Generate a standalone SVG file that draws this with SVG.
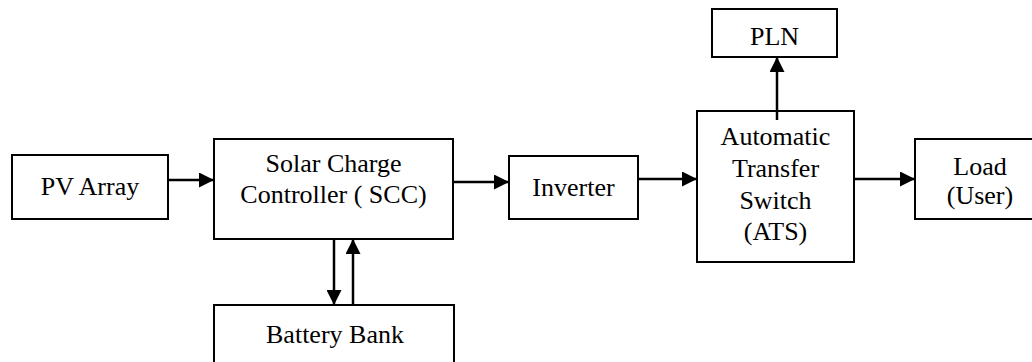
<svg xmlns="http://www.w3.org/2000/svg" width="1032" height="362" viewBox="0 0 1032 362">
<defs>
<style>
.box{fill:#fff;stroke:#000;stroke-width:2}
.lbl{font-family:'Liberation Serif','Times New Roman',Tinos,'Noto Serif','DejaVu Serif',FreeSerif,Times,serif;font-size:26px;fill:#000;text-anchor:middle}
.conn{stroke:#000;stroke-width:2.5;fill:none;marker-end:url(#ah)}
</style>
<marker id="ah" markerUnits="userSpaceOnUse" markerWidth="16" markerHeight="15" refX="15" refY="7.5" orient="auto">
<path d="M0,0 L15,7.5 L0,15 Z" fill="#000"/>
</marker>
</defs>
<rect width="1032" height="362" fill="#fff"/>
<g id="pv">
<rect class="box" x="12" y="155" width="156" height="64"/>
<text class="lbl" x="90" y="195">PV Array</text>
</g>
<g id="scc">
<rect class="box" x="214" y="139" width="239" height="100"/>
<text class="lbl" x="333.5" y="172">Solar Charge</text>
<text class="lbl" x="333.5" y="203">Controller ( SCC)</text>
</g>
<g id="inverter">
<rect class="box" x="509" y="156" width="129" height="63"/>
<text class="lbl" x="573.5" y="196">Inverter</text>
</g>
<g id="ats">
<rect class="box" x="697" y="111" width="157" height="151"/>
<text class="lbl" x="775.5" y="145">Automatic</text>
<text class="lbl" x="775.5" y="177">Transfer</text>
<text class="lbl" x="775.5" y="209">Switch</text>
<text class="lbl" x="775.5" y="240">(ATS)</text>
</g>
<g id="pln">
<rect class="box" x="712" y="9" width="125" height="48"/>
<text class="lbl" x="774.5" y="45">PLN</text>
</g>
<g id="load">
<rect class="box" x="915" y="139" width="130" height="80"/>
<text class="lbl" x="980" y="175">Load</text>
<text class="lbl" x="980" y="204">(User)</text>
</g>
<g id="battery">
<rect class="box" x="214" y="305" width="240" height="70"/>
<text class="lbl" x="335" y="343">Battery Bank</text>
</g>
<g id="connectors">
<line class="conn" x1="168" y1="180" x2="214" y2="180"/>
<line class="conn" x1="453" y1="182" x2="509" y2="182"/>
<line class="conn" x1="638" y1="179" x2="697" y2="179"/>
<line class="conn" x1="854" y1="179" x2="915" y2="179"/>
<line class="conn" x1="777" y1="120" x2="777" y2="57"/>
<line class="conn" x1="334" y1="239" x2="334" y2="305"/>
<line class="conn" x1="353" y1="305" x2="353" y2="239"/>
</g>
</svg>
